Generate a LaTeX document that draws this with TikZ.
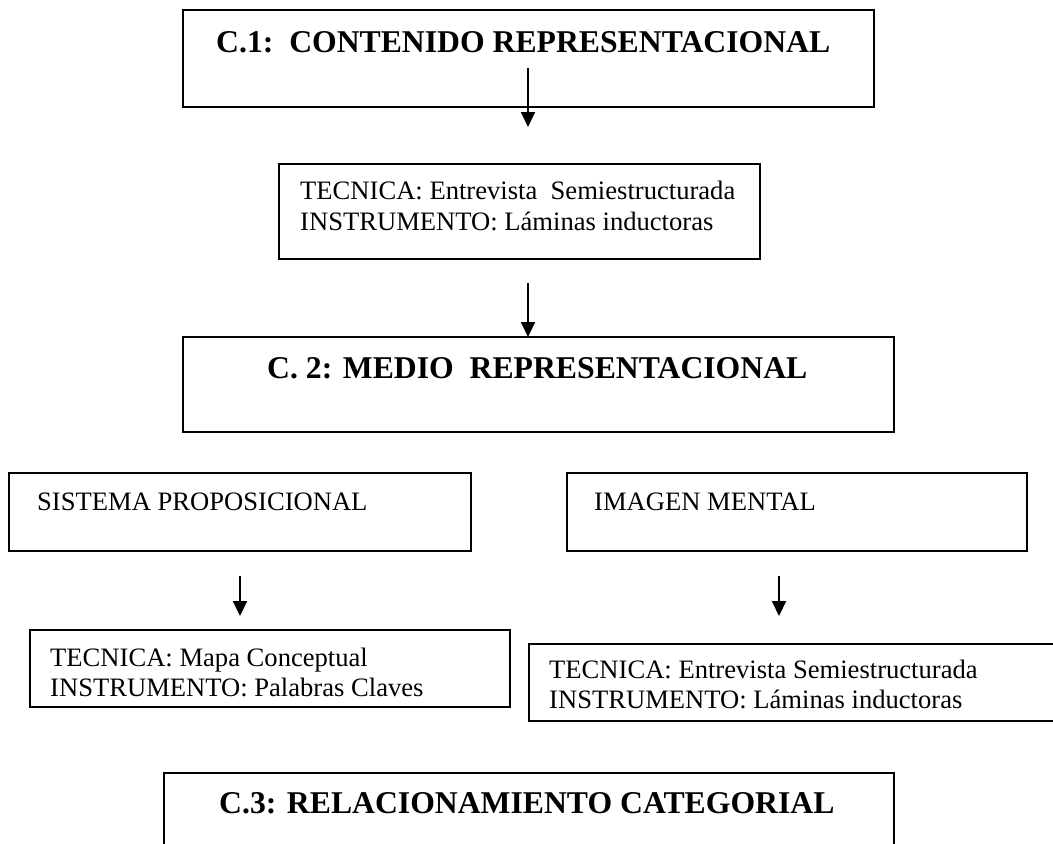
\documentclass[tikz,border=0pt]{standalone}
\usepackage{fontspec}
\setmainfont{Liberation Serif}
\usetikzlibrary{arrows.meta}
\begin{document}
\begin{tikzpicture}[x=1pt,y=-1pt,
  box/.style={draw=black,line width=2pt,rectangle,inner sep=0pt,outer sep=0pt,anchor=north west},
  title/.style={anchor=base west,inner sep=0pt,font=\fontsize{31.7}{36}\selectfont\bfseries},
  body/.style={anchor=base west,inner sep=0pt,font=\fontsize{26.6}{30.5}\selectfont},
  arr/.style={line width=2pt,-{Triangle[length=15pt,width=14pt]}}]
\useasboundingbox (0,0) rectangle (1053,844);
\fill[white] (0,0) rectangle (1053,844);
% boxes
\node[box,minimum width=691pt,minimum height=97pt] (b1) at (183,10) {};
\node[box,minimum width=481pt,minimum height=95pt] (b2) at (279,164) {};
\node[box,minimum width=711pt,minimum height=95pt] (b3) at (183,337) {};
\node[box,minimum width=462pt,minimum height=78pt] (b4) at (9,473) {};
\node[box,minimum width=460pt,minimum height=78pt] (b5) at (567,473) {};
\node[box,minimum width=480pt,minimum height=77pt] (b6) at (30,630) {};
\node[box,minimum width=540pt,minimum height=77pt] (b7) at (529,644) {};
\node[box,minimum width=730pt,minimum height=90pt] (b8) at (164,773) {};
% texts
\node[title] (t1) at (216,52) {C.1:\ \ CONTENIDO REPRESENTACIONAL};
\node[body] (t2a) at (300,199) {TECNICA: Entrevista\ \ Semiestructurada};
\node[body] (t2b) at (300,230) {INSTRUMENTO: Láminas inductoras};
\node[title] (t3) at (267,378) {C. 2: MEDIO\ \ REPRESENTACIONAL};
\node[body] (t4) at (37,510) {SISTEMA PROPOSICIONAL};
\node[body] (t5) at (594,510) {IMAGEN MENTAL};
\node[body] (t6a) at (50,666) {TECNICA: Mapa Conceptual};
\node[body] (t6b) at (50,696) {INSTRUMENTO: Palabras Claves};
\node[body] (t7a) at (549,678) {TECNICA: Entrevista Semiestructurada};
\node[body] (t7b) at (549,708) {INSTRUMENTO: Láminas inductoras};
\node[title] (t8) at (219,813) {C.3: RELACIONAMIENTO CATEGORIAL};
% arrows
\coordinate (a1s) at (528,68);
\coordinate (a1e) at (528,127);
\coordinate (a2s) at (528,283);
\coordinate (a3s) at (240,576);
\coordinate (a3e) at (240,616);
\coordinate (a4s) at (779,576);
\coordinate (a4e) at (779,616);
\draw[arr] (a1s) -- (a1e);
\draw[arr] (a2s) -- (a2s |- b3.north);
\draw[arr] (a3s) -- (a3e);
\draw[arr] (a4s) -- (a4e);
\end{tikzpicture}
\end{document}
